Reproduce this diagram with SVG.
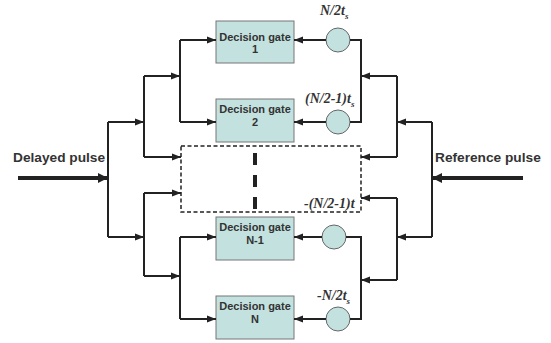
<svg xmlns="http://www.w3.org/2000/svg" width="551" height="343" viewBox="0 0 551 343">
<defs>
<marker id="ah" viewBox="0 0 10 8" refX="10" refY="4" markerWidth="9" markerHeight="8" markerUnits="userSpaceOnUse" orient="auto"><path d="M0,0 L10,4 L0,8 Z" fill="#222"/></marker>
<marker id="ahb" viewBox="0 0 10 10" refX="10" refY="5" markerWidth="10" markerHeight="10" markerUnits="userSpaceOnUse" orient="auto"><path d="M0,0 L10,5 L0,10 Z" fill="#222"/></marker>
</defs>
<style>
.gate rect{fill:#c3e1df;stroke:#777;stroke-width:1}
.gate text{font-family:"Liberation Sans",Arial,sans-serif;font-weight:bold;font-size:11px;fill:#333;text-anchor:middle}
.dl circle{fill:#c3e1df;stroke:#666;stroke-width:1}
.w{fill:none;stroke:#222;stroke-width:2}
.a{fill:none;stroke:#222;stroke-width:2;marker-end:url(#ah)}
.big{fill:none;stroke:#222;stroke-width:4;marker-end:url(#ahb)}
.lbl{font-family:"Liberation Sans",Arial,sans-serif;font-weight:bold;font-size:13.7px;fill:#333}
.math{font-family:"Liberation Serif","Times New Roman",serif;font-weight:bold;font-style:italic;font-size:14px;fill:#333}
</style>
<rect width="551" height="343" fill="#fff"/>
<g id="dots">
<rect x="181" y="146" width="180" height="66" fill="none" stroke="#222" stroke-width="1.5" stroke-dasharray="4 2.5"/>
<line x1="255" y1="153" x2="255" y2="210" stroke="#222" stroke-width="4" stroke-dasharray="12 10"/>
</g>
<g id="gate1" class="gate"><rect x="216" y="21" width="78" height="42"/><text x="255" y="40.5">Decision gate</text><text x="255" y="53">1</text></g>
<g id="gate2" class="gate"><rect x="216" y="99" width="78" height="43"/><text x="255" y="113">Decision gate</text><text x="255" y="125.5">2</text></g>
<g id="gateN1" class="gate"><rect x="216" y="217" width="78" height="43"/><text x="255" y="230.5">Decision gate</text><text x="255" y="243.5">N-1</text></g>
<g id="gateN" class="gate"><rect x="216" y="296" width="78" height="43"/><text x="255" y="310">Decision gate</text><text x="255" y="322.5">N</text></g>
<g id="delay1" class="dl"><circle cx="338" cy="40" r="12"/></g>
<g id="delay2" class="dl"><circle cx="338" cy="122" r="12"/></g>
<g id="delayN1" class="dl"><circle cx="334" cy="237" r="12"/></g>
<g id="delayN" class="dl"><circle cx="338" cy="319" r="12"/></g>
<g id="labels">
<text class="lbl" x="13" y="162">Delayed pulse</text>
<text class="lbl" x="435" y="162">Reference pulse</text>
<text class="math" x="320" y="15">N/2t<tspan dy="4" font-size="9">s</tspan></text>
<text class="math" x="305" y="103">(N/2-1)t<tspan dy="4" font-size="9">s</tspan></text>
<text class="math" x="304" y="208">-(N/2-1)t</text>
<text class="math" x="317" y="300">-N/2t<tspan dy="4" font-size="9">s</tspan></text>
</g>
<g id="connectors">
<line class="big" x1="18" y1="178" x2="108" y2="178"/>
<line class="w" x1="108" y1="122" x2="108" y2="237"/>
<line class="a" x1="108" y1="122" x2="144" y2="122"/>
<line class="a" x1="108" y1="237" x2="144" y2="237"/>
<line class="w" x1="144" y1="76" x2="144" y2="157"/>
<line class="a" x1="144" y1="76" x2="180" y2="76"/>
<line class="a" x1="144" y1="157" x2="181" y2="157"/>
<line class="w" x1="180" y1="40" x2="180" y2="122"/>
<line class="a" x1="180" y1="40" x2="216" y2="40"/>
<line class="a" x1="180" y1="122" x2="216" y2="122"/>
<line class="w" x1="144" y1="193" x2="144" y2="276"/>
<line class="a" x1="144" y1="193" x2="181" y2="193"/>
<line class="a" x1="144" y1="276" x2="180" y2="276"/>
<line class="w" x1="180" y1="237" x2="180" y2="319"/>
<line class="a" x1="180" y1="237" x2="216" y2="237"/>
<line class="a" x1="180" y1="319" x2="216" y2="319"/>
<line class="big" x1="523" y1="178" x2="432" y2="178"/>
<line class="w" x1="432" y1="122" x2="432" y2="237"/>
<line class="a" x1="432" y1="122" x2="397" y2="122"/>
<line class="a" x1="432" y1="237" x2="397" y2="237"/>
<line class="w" x1="397" y1="76" x2="397" y2="157"/>
<line class="a" x1="397" y1="76" x2="361" y2="76"/>
<line class="a" x1="397" y1="157" x2="361" y2="157"/>
<line class="w" x1="397" y1="198" x2="397" y2="280"/>
<line class="a" x1="397" y1="198" x2="361" y2="198"/>
<line class="a" x1="397" y1="280" x2="361" y2="280"/>
<polyline class="w" points="350,40 361,40 361,122 350,122"/>
<polyline class="w" points="346,237 361,237 361,319 350,319"/>
<line class="a" x1="326" y1="40" x2="294" y2="40"/>
<line class="a" x1="326" y1="122" x2="294" y2="122"/>
<line class="a" x1="322" y1="237" x2="294" y2="237"/>
<line class="a" x1="326" y1="319" x2="294" y2="319"/>
</g>
</svg>
